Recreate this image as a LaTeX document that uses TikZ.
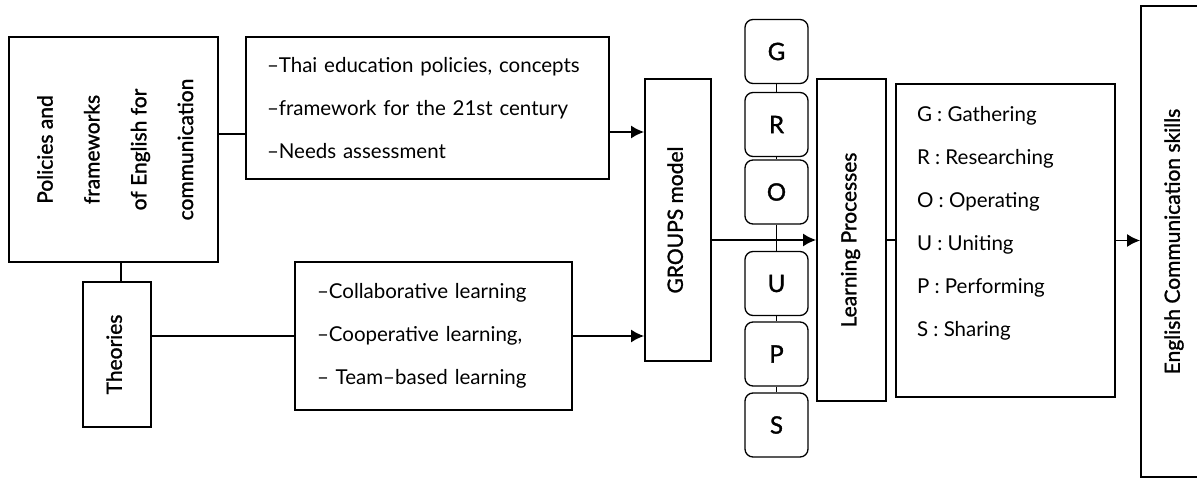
\documentclass[tikz,border=0pt]{standalone}
\usepackage{fontspec}
\setmainfont{Lato}
\newfontfamily\medfont[FakeBold=1.3]{Lato}
\usepackage{graphicx}
\usetikzlibrary{arrows.meta}

\tikzset{
  frame/.style={draw, line width=1.8pt, inner sep=0pt},
  listbox/.style={frame, align=left, font=\fontsize{20.5}{43}\selectfont},
  vbox/.style={frame, font=\medfont\fontsize{21}{24}\selectfont},
  letterbox/.style={draw, line width=1.3pt, rounded corners=8pt, minimum width=63pt, minimum height=64pt, font=\medfont\fontsize{24}{24}\selectfont},
}
\newcommand{\uptext}[1]{\rotatebox{90}{\begin{tabular}{@{}c@{}}#1\end{tabular}}}

\begin{document}
\begin{tikzpicture}[x=1pt, y=-1pt, line width=1.8pt, >={Latex[length=13pt,width=13pt]}]
    \useasboundingbox (0,0) rectangle (1197,479);
    \clip (0,0) rectangle (1197,479);

    \node[vbox, minimum width=209pt, minimum height=225pt] (pol) at ( 113.5, 149.5) {\def\arraystretch{1.95}\uptext{Policies and\\frameworks\\of English for\\communication}};
    \node[vbox, minimum width=68pt,  minimum height=145pt] (th)  at ( 117,   354.5) {\uptext{Theories}};
    \node[listbox, minimum width=363pt, minimum height=142pt, text width=321pt] (pl) at (427.5, 108) {--Thai education policies, concepts\\--framework for the 21st century\\--Needs assessment};
    \node[listbox, minimum width=277pt, minimum height=148pt, text width=233pt] (tl) at (433.5, 336) {--Collaborative learning\\--Cooperative learning,\\-- Team--based learning};
    \node[vbox, minimum width=66pt,  minimum height=282pt] (gm)  at ( 678,   220)   {\uptext{GROUPS model}};
    \node[vbox, minimum width=69pt,  minimum height=322pt] (lp)  at ( 851.5, 240)   {\uptext{Learning Processes}};
    \node[frame, minimum width=219pt, minimum height=313pt,
          label={[anchor=north west, align=left, inner sep=0pt, xshift=21pt, yshift=-22pt, font=\fontsize{20.5}{43}\selectfont]north west:{G : Gathering\\R : Researching\\O : Operating\\U : Uniting\\P : Performing\\S : Sharing}}] (gl) at (1005.5, 240.5) {};
    \node[vbox, minimum width=68pt,  minimum height=471pt] (ec)  at (1175,   241.5) {\uptext{English Communication skills}};

    % GROUPS letters
    \foreach \ch/\y in {G/51.5, R/124.5, O/192, U/283.5, P/354, S/425}
        \node[letterbox] (l\ch) at (776.5, \y) {\ch};
    \foreach \a/\b in {G/R, R/O, O/U, U/P, P/S}
        \draw[line width=1.5pt] (l\a) -- (l\b);

    \draw ([xshift=4pt]th.north |- pol.south) -- ([xshift=4pt]th.north);
    \draw ([yshift=-26pt]pl.west) -- ([yshift=-26pt]pl.west -| pol.east);
    \draw (tl.west) -- (tl.west -| th.east);
    \draw[->] ([yshift=-24pt]pl.east) -- ([yshift=-24pt]pl.east -| gm.west);
    \draw[->] (tl.east) -- (tl.east -| gm.west);
    \draw[->] (lp.west -| gm.east) -- (lp.west);
    \draw (lp.east) -- (lp.east -| gl.west);
    \draw[->] (gl.east) -- (gl.east -| ec.west);
\end{tikzpicture}
\end{document}
